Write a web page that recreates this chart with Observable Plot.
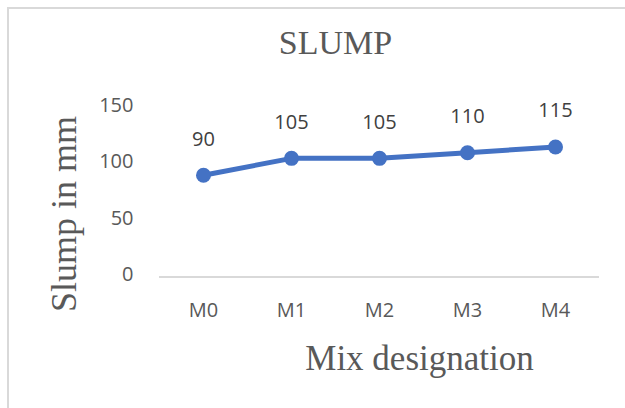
<!DOCTYPE html>
<html>
<head>
<meta charset="utf-8">
<script src="https://cdn.jsdelivr.net/npm/d3@7"></script>
<script src="https://cdn.jsdelivr.net/npm/@observablehq/plot@0.6"></script>
<style>
  html, body { margin: 0; padding: 0; background: #fff; overflow: hidden; width: 625px; height: 408px; }
  #wrap { position: relative; width: 625px; height: 408px; }
  #box { position: absolute; left: 7px; top: 7px; width: 700px; height: 500px; border: 2px solid #d9d9d9; box-sizing: border-box; }
  #chart { position: absolute; left: 0; top: 0; }
</style>
</head>
<body>
<div id="wrap"><div id="box"></div><div id="chart"></div></div>
<script>
const mixes = ["M0", "M1", "M2", "M3", "M4"];
const slump = [90, 105, 105, 110, 115];
const yTicks = [0, 50, 100, 150];
const titleText = "SLUMP";
const xTitle = "Mix designation";
const yTitle = "Slump in mm";

const data = mixes.map((m, i) => ({mix: m, value: slump[i]}));
const serif = "'Liberation Serif', 'Times New Roman', serif";
const sans = "'Open Sans', 'Liberation Sans', sans-serif";

const chart = Plot.plot({
  width: 625,
  height: 408,
  marginLeft: 159,
  marginRight: 26,
  marginTop: 107,
  marginBottom: 131.5,
  style: {background: "transparent", color: "#595959", fontFamily: sans},
  x: {type: "point", domain: mixes, padding: 0.5, label: null},
  y: {domain: [0, 150], label: null},
  marks: [
    Plot.ruleY([0], {stroke: "#d9d9d9", strokeWidth: 2}),
    Plot.axisY({ticks: yTicks, tickSize: 0, tickPadding: 26, fontSize: 20, label: null, dy: -2}),
    Plot.axisX({tickSize: 0, tickPadding: 26, fontSize: 20, label: null}),
    Plot.line(data, {x: "mix", y: "value", stroke: "#4472C4", strokeWidth: 5, strokeLinecap: "round", strokeLinejoin: "round"}),
    Plot.dot(data, {x: "mix", y: "value", r: 7.5, fill: "#4472C4", stroke: "none"}),
    Plot.text(data, {x: "mix", y: "value", text: d => String(d.value), dy: -36, fontSize: 20, fill: "#404040", fontFamily: sans}),
    Plot.text([titleText], {frameAnchor: "top", textAnchor: "middle", lineAnchor: "middle", dx: -44, dy: -64.6, fontSize: 34, fill: "#595959", fontFamily: serif}),
    Plot.text([xTitle], {frameAnchor: "bottom", textAnchor: "middle", lineAnchor: "middle", dx: 40, dy: 81.3, fontSize: 35, fill: "#595959", fontFamily: serif}),
    Plot.text([yTitle], {frameAnchor: "left", textAnchor: "middle", lineAnchor: "middle", rotate: -90, dx: -95.5, dy: 21.75, fontSize: 36, fill: "#595959", fontFamily: serif})
  ]
});
document.getElementById("chart").appendChild(chart);
</script>
</body>
</html>
